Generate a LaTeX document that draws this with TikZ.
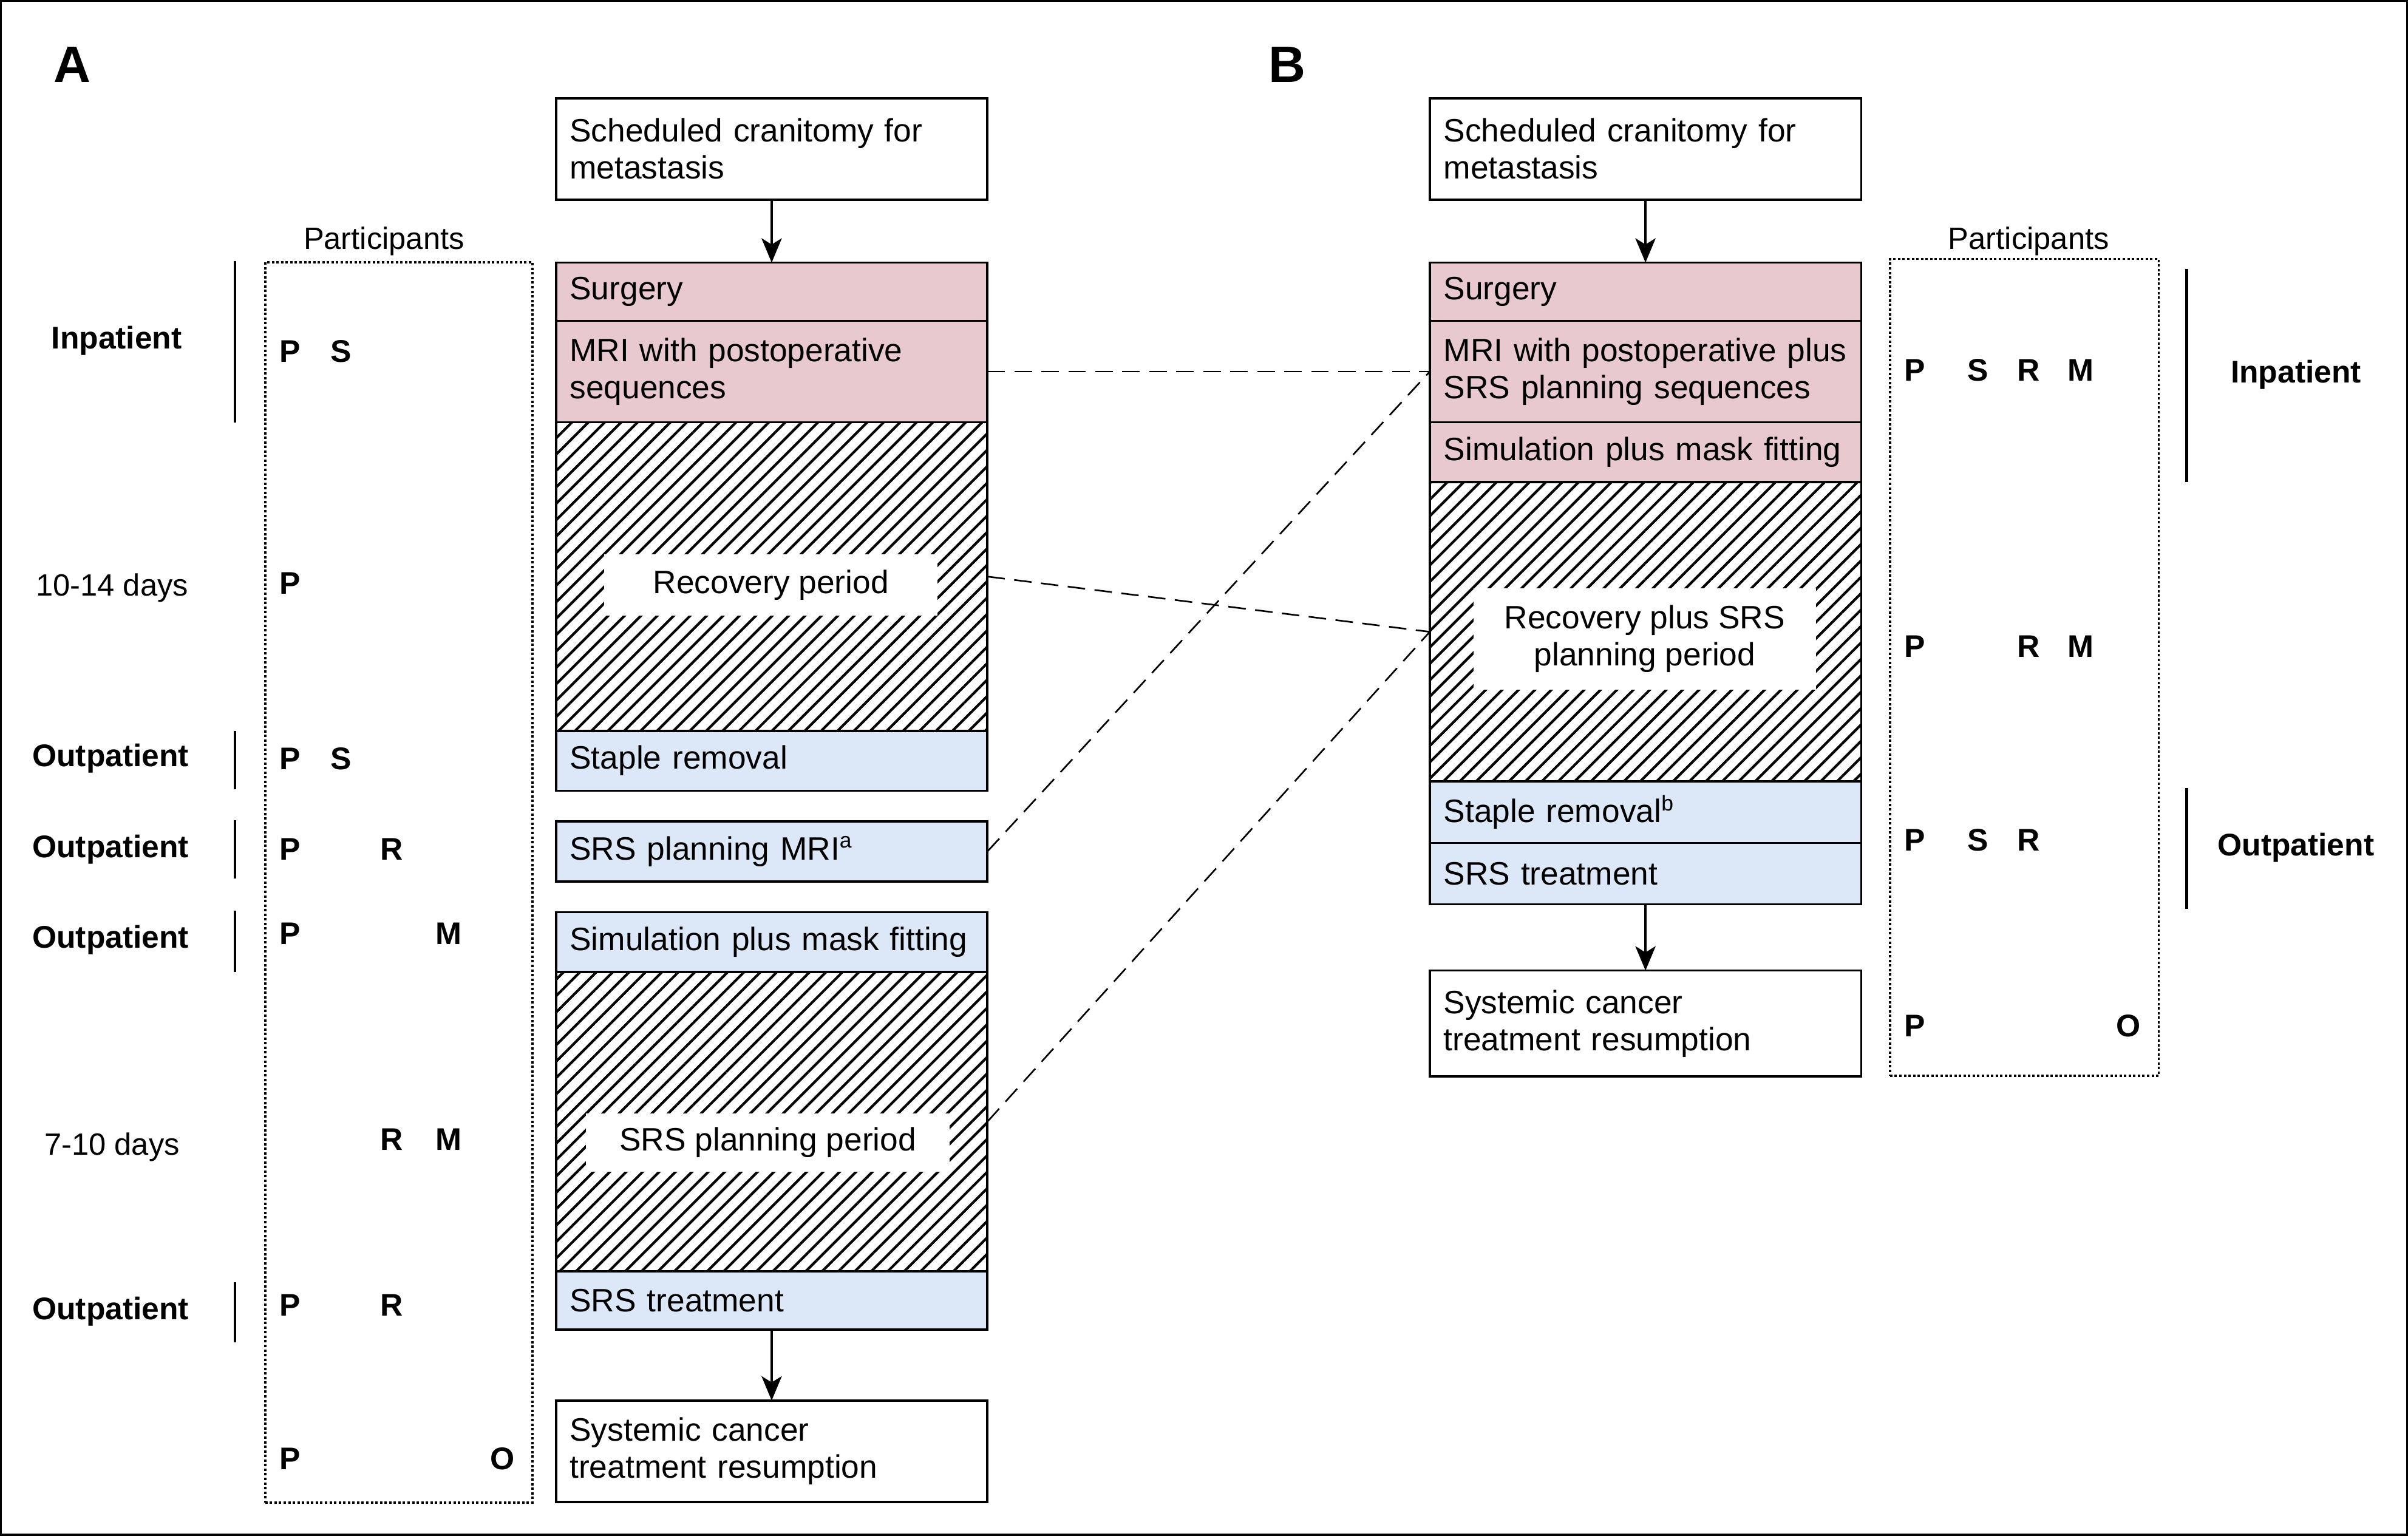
\documentclass[tikz,border=0pt]{standalone}
\usepackage{fontspec}
\setmainfont{Liberation Sans}
\setsansfont{Liberation Sans}
\usetikzlibrary{arrows.meta,patterns.meta}
\definecolor{surgpink}{RGB}{231,201,207}
\definecolor{visitblue}{RGB}{220,231,248}
\newcommand\stepfont{\fontsize{12}{13.7}\selectfont}
\newcommand\tagfont{\bfseries\fontsize{11.6}{13}\selectfont}
\tikzset{
  stepbox/.style={draw, line width=0.85pt, anchor=north west, text width=5.26cm,
    inner xsep=0.18cm, inner ysep=0pt, outer sep=0pt, align=left, font=\stepfont},
  pinkstep/.style={stepbox, fill=surgpink},
  bluestep/.style={stepbox, fill=visitblue},
  hatchstep/.style={stepbox, pattern={Lines[angle=45,distance=4.3pt,line width=0.95pt]}},
  periodlabel/.style={fill=white, align=center, font=\stepfont, inner sep=0pt},
  partbox/.style={draw, line width=0.8pt, dash pattern=on 0.9pt off 0.8pt, inner sep=0pt},
  partletter/.style={font=\tagfont},
  stagelabel/.style={font=\tagfont},
  daylabel/.style={font=\fontsize{11.4}{13}\selectfont},
  stagebar/.style={line width=1.1pt},
  flowarrow/.style={line width=0.85pt, -{Stealth[length=9pt,width=7.5pt,inset=2.3pt]}},
  linkline/.style={line width=0.6pt, dash pattern=on 6.5pt off 3.5pt},
}
\begin{document}
\begin{tikzpicture}[x=0.02cm,y=-0.02cm]
  \useasboundingbox (0,0) rectangle (1568,1000);
  \draw[line width=1.4pt] (0,0) rectangle (1568,1000);

  % Panel A: flow
  \node[font=\bfseries\fontsize{19}{20}\selectfont] (labA) at (47,42) {A};
  \node[stepbox, minimum height=1.32cm] (aStart) at (362,64) {Scheduled cranitomy for\\metastasis};
  \node[pinkstep, minimum height=0.76cm] (aSurg) at (362,171) {Surgery};
  \node[pinkstep, minimum height=1.32cm] (aMri) at (aSurg.south west) {MRI with postoperative\\sequences};
  \node[hatchstep, minimum height=4.02cm] (aRecov) at (aMri.south west) {};
  \node[periodlabel, minimum width=4.34cm, minimum height=0.8cm] (aRecovLbl) at (502,381) {Recovery period};
  \node[bluestep, minimum height=0.78cm] (aStaple) at (aRecov.south west) {Staple removal};
  \node[bluestep, minimum height=0.78cm] (aSrsMri) at (362,535) {SRS planning MRI\textsuperscript{a}};
  \node[bluestep, minimum height=0.78cm] (aSim) at (362,594) {Simulation plus mask fitting};
  \node[hatchstep, minimum height=3.9cm] (aPlan) at (aSim.south west) {};
  \node[periodlabel, minimum width=4.74cm, minimum height=0.76cm] (aPlanLbl) at (500,744) {SRS planning period};
  \node[bluestep, minimum height=0.76cm] (aTreat) at (aPlan.south west) {SRS treatment};
  \node[stepbox, minimum height=1.32cm] (aEnd) at (362,912) {Systemic cancer\\treatment resumption};
  \draw[flowarrow] (aStart) -- (aSurg);
  \draw[flowarrow] (aTreat) -- (aEnd);

  % Panel A: participants
  \node[partbox, anchor=north west, minimum width=3.48cm, minimum height=16.16cm] (aPart) at (172,170) {};
  \node[daylabel] (aPartLbl) at (250,157) {Participants};
  \foreach \ltr/\x/\y [count=\i] in {P/189/229, S/222/229, P/189/380, P/189/494, S/222/494,
      P/189/553, R/255/553, P/189/608, M/292/608, R/255/742, M/292/742,
      P/189/850, R/255/850, P/189/950, O/327/950}
    \node[partletter] (aL\i) at (\x,\y) {\ltr};

  % Panel A: stages
  \node[stagelabel] (aIn) at (76,222) {Inpatient};
  \node[daylabel] (aDays1) at (73,383) {10-14 days};
  \node[stagelabel] (aOut1) at (72,494) {Outpatient};
  \node[stagelabel] (aOut2) at (72,553) {Outpatient};
  \node[stagelabel] (aOut3) at (72,612) {Outpatient};
  \node[daylabel] (aDays2) at (73,747) {7-10 days};
  \node[stagelabel] (aOut4) at (72,854) {Outpatient};
  \foreach \ya/\yb in {170/275, 476/514, 534/572, 593/633, 835/874}
    \draw[stagebar] (153,\ya) -- (153,\yb);

  % Panel B: flow
  \node[font=\bfseries\fontsize{19}{20}\selectfont] (labB) at (838,42) {B};
  \node[stepbox, minimum height=1.32cm] (bStart) at (931,64) {Scheduled cranitomy for\\metastasis};
  \node[pinkstep, minimum height=0.76cm] (bSurg) at (931,171) {Surgery};
  \node[pinkstep, minimum height=1.32cm] (bMri) at (bSurg.south west) {MRI with postoperative plus\\SRS planning sequences};
  \node[pinkstep, minimum height=0.78cm] (bSim) at (bMri.south west) {Simulation plus mask fitting};
  \node[hatchstep, minimum height=3.9cm] (bRecov) at (bSim.south west) {};
  \node[periodlabel, minimum width=4.46cm, minimum height=1.32cm] (bRecovLbl) at (1071,416) {Recovery plus SRS\\planning period};
  \node[bluestep, minimum height=0.8cm] (bStaple) at (bRecov.south west) {Staple removal\textsuperscript{b}};
  \node[bluestep, minimum height=0.8cm] (bTreat) at (bStaple.south west) {SRS treatment};
  \node[stepbox, minimum height=1.38cm] (bEnd) at (931,632) {Systemic cancer\\treatment resumption};
  \draw[flowarrow] (bStart) -- (bSurg);
  \draw[flowarrow] (bTreat) -- (bEnd);

  % Panel B: participants
  \node[partbox, anchor=north west, minimum width=3.5cm, minimum height=10.64cm] (bPart) at (1230,168) {};
  \node[daylabel] (bPartLbl) at (1321,157) {Participants};
  \foreach \ltr/\x/\y [count=\i] in {P/1247/241, S/1288/241, R/1321/241, M/1355/241,
      P/1247/421, R/1321/421, M/1355/421, P/1247/547, S/1288/547, R/1321/547,
      P/1247/668, O/1386/668}
    \node[partletter] (bL\i) at (\x,\y) {\ltr};

  % Panel B: stages
  \node[stagelabel] (bIn) at (1495,244) {Inpatient};
  \node[stagelabel] (bOut) at (1495,552) {Outpatient};
  \draw[stagebar] (1424,175) -- (1424,314);
  \draw[stagebar] (1424,513) -- (1424,592);

  % links between panels
  \draw[linkline] (aMri.east) -- (bMri.west);
  \draw[linkline] (aRecov.east) -- (bRecov.west);
  \draw[linkline] (aSrsMri.east) -- (bMri.west);
  \draw[linkline] (aPlan.east) -- (bRecov.west);
\end{tikzpicture}
\end{document}
